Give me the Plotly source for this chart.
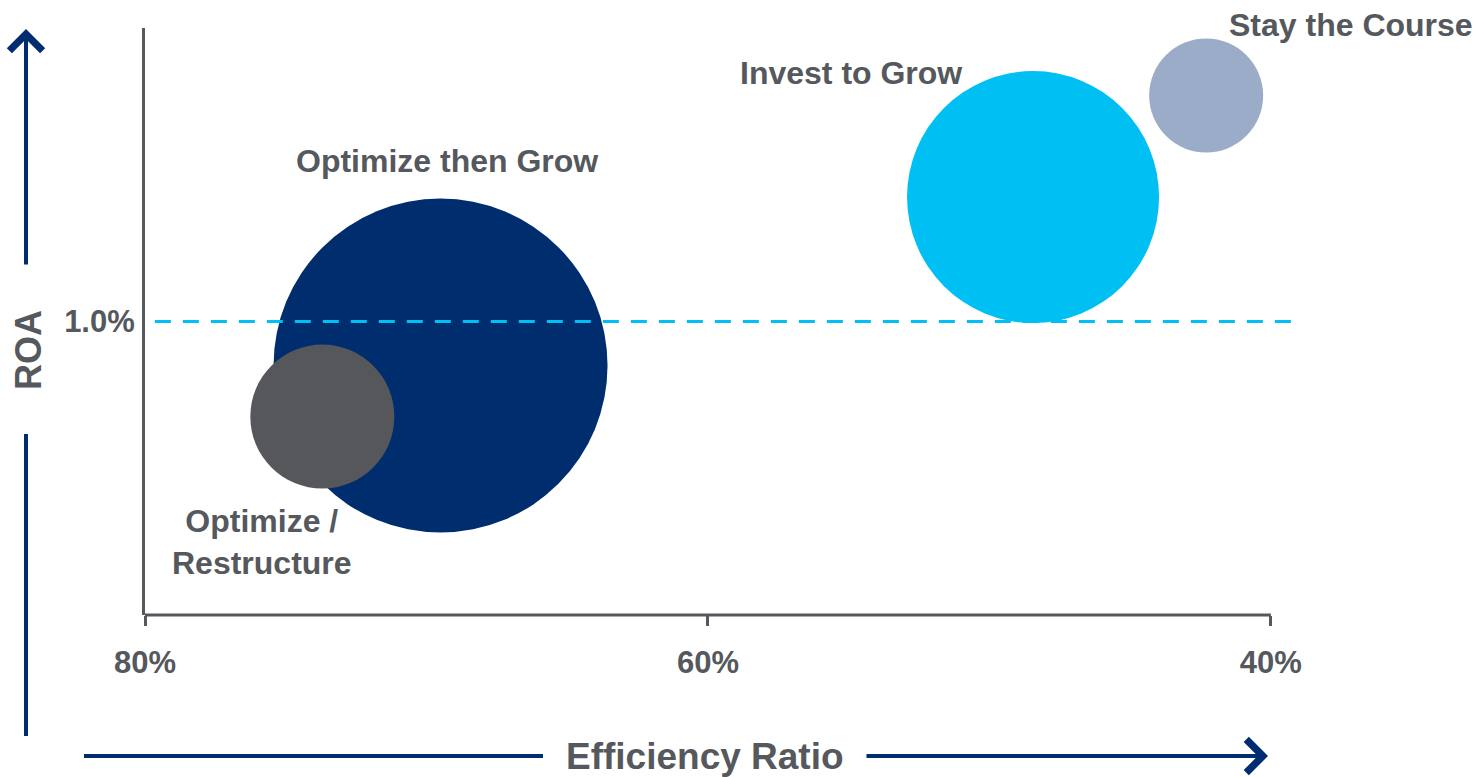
import plotly.graph_objects as go

# Segment data: efficiency ratio (%), ROA (%), bubble size
segments = ["Optimize then Grow", "Optimize / Restructure", "Invest to Grow", "Stay the Course"]
efficiency = [69.5, 73.7, 48.45, 42.3]
roa = [0.925, 0.838, 1.212, 1.385]
bubble_size = [334, 144, 252, 114]
colors = ["#002D6E", "#55575B", "#00BFF3", "#9AACC8"]

x_ticks = [80, 60, 40]
x_tick_labels = ["80%", "60%", "40%"]
roa_threshold = 1.0

W, H = 1484, 777
M_L, M_R, M_T, M_B = 145, 192, 28, 162
PW, PH = W - M_L - M_R, H - M_T - M_B

GRAY = "#55585D"
NAVY = "#002D72"
FONT = "Liberation Sans, Arial, sans-serif"


def px(x, y):
    """Pixel position -> paper coordinates."""
    return (x - M_L) / PW, (H - M_B - y) / PH


fig = go.Figure()

for name, xv, yv, s, c in zip(segments, efficiency, roa, bubble_size, colors):
    fig.add_trace(go.Scatter(
        x=[xv], y=[yv], mode="markers", name=name,
        marker=dict(size=s, sizemode="diameter", color=c, opacity=1, line=dict(width=0)),
        cliponaxis=False, showlegend=False, hoverinfo="name",
    ))

shapes = []
# ROA threshold line
shapes.append(dict(type="line", xref="x", yref="y", x0=79.65, x1=39.25,
                   y0=roa_threshold, y1=roa_threshold,
                   line=dict(color="#00BFF3", width=3, dash="16px,12px")))
# x axis baseline (80% .. 40%)
shapes.append(dict(type="line", xref="x", yref="paper", x0=x_ticks[0], x1=x_ticks[-1],
                   y0=0, y1=0, line=dict(color=GRAY, width=3)))
# arrow tails
x0p, y0p = px(26, 434)
x1p, y1p = px(26, 736)
shapes.append(dict(type="line", xref="paper", yref="paper", x0=x0p, x1=x1p, y0=y0p, y1=y1p,
                   line=dict(color=NAVY, width=4)))
x0p, y0p = px(84, 756)
x1p, y1p = px(543, 756)
shapes.append(dict(type="line", xref="paper", yref="paper", x0=x0p, x1=x1p, y0=y0p, y1=y1p,
                   line=dict(color=NAVY, width=4)))

annotations = []
# arrow heads
hx, hy = px(26, 29)
annotations.append(dict(xref="paper", yref="paper", x=hx, y=hy, ax=0, ay=237, text="",
                        showarrow=True, arrowhead=4, arrowsize=1.6, arrowwidth=4,
                        arrowcolor=NAVY))
hx, hy = px(1268, 756)
annotations.append(dict(xref="paper", yref="paper", x=hx, y=hy, ax=-403, ay=0, text="",
                        showarrow=True, arrowhead=4, arrowsize=1.6, arrowwidth=4,
                        arrowcolor=NAVY))

# axis titles
tx, ty = px(28, 350)
annotations.append(dict(xref="paper", yref="paper", x=tx, y=ty, text="<b>ROA</b>",
                        textangle=-90, showarrow=False, xanchor="center", yanchor="middle",
                        font=dict(family=FONT, size=36, color=GRAY)))
tx, ty = px(705, 756)
annotations.append(dict(xref="paper", yref="paper", x=tx, y=ty, text="<b>Efficiency Ratio</b>",
                        showarrow=False, xanchor="center", yanchor="middle",
                        font=dict(family=FONT, size=37, color=GRAY)))

# segment labels
label_pos = [(447, 161), (262, 542), (851, 73), (1351, 25)]
label_text = ["Optimize then Grow", "Optimize /<br>Restructure", "Invest to Grow", "Stay the Course"]
for (lx, ly), t in zip(label_pos, label_text):
    ax_, ay_ = px(lx, ly)
    annotations.append(dict(xref="paper", yref="paper", x=ax_, y=ay_, text=f"<b>{t}</b>",
                            showarrow=False, align="center", xanchor="center", yanchor="middle",
                            font=dict(family=FONT, size=32, color=GRAY)))

fig.update_layout(
    width=W, height=H,
    margin=dict(l=M_L, r=M_R, t=M_T, b=M_B),
    paper_bgcolor="white", plot_bgcolor="white",
    shapes=shapes, annotations=annotations,
    xaxis=dict(range=[80, 39.25], showgrid=False, zeroline=False, showline=False,
               tickvals=x_ticks, ticktext=[f"<b>{t}</b>" for t in x_tick_labels],
               ticks="outside", ticklen=10, tickwidth=3, tickcolor=GRAY,
               tickfont=dict(family=FONT, size=31, color=GRAY), ticklabelstandoff=10),
    yaxis=dict(range=[0.5, 1.5], showgrid=False, zeroline=False, showline=True,
               linecolor=GRAY, linewidth=3, ticks="",
               tickvals=[roa_threshold], ticktext=["<b>1.0%</b>"],
               tickfont=dict(family=FONT, size=31, color=GRAY), ticklabelstandoff=1),
    hovermode="closest",
)

fig.write_html("out.html")
